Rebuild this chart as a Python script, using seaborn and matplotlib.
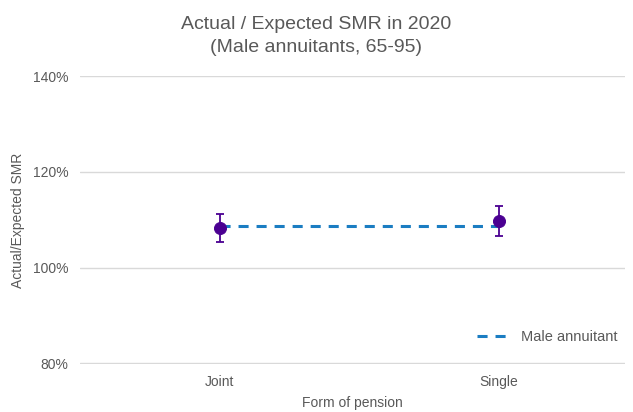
import pandas as pd
import seaborn as sns
import matplotlib.pyplot as plt
from matplotlib.ticker import FuncFormatter

# data
forms = ["Joint", "Single"]
ae_smr = [108.2, 109.7]
ci_low = [105.3, 106.6]
ci_high = [111.2, 112.8]
male_annuitant = [108.7, 108.7]

df = pd.DataFrame({"form": forms, "smr": ae_smr, "lo": ci_low, "hi": ci_high,
                   "male": male_annuitant})

sns.set_style("white")
plt.rcParams["font.family"] = ["Liberation Sans", "DejaVu Sans"]

fig = plt.figure(figsize=(6.33, 4.12), dpi=100)
ax = fig.add_axes([0.126, 0.1165, 0.861, 0.699])

grey = "#595959"

# benchmark dashed line
sns.lineplot(x=[0, 1], y=df["male"], ax=ax, color="#1B7DC2", linewidth=2.2,
             linestyle=(0, (3.3, 2.6)), label="Male annuitant", zorder=2)

# error bars + points
ax.errorbar([0, 1], df["smr"], yerr=[df["smr"] - df["lo"], df["hi"] - df["smr"]],
            fmt="none", ecolor="#4B0092", elinewidth=1.3, capsize=2.7, capthick=1.3, zorder=3)
sns.scatterplot(x=[0, 1], y=df["smr"], ax=ax, color="#4B0092", s=75,
                edgecolor="#4B0092", zorder=4, legend=False)

ax.set_xlim(-0.5, 1.45)
ax.set_ylim(79.85, 140)
ax.set_yticks([80, 100, 120, 140])
ax.yaxis.set_major_formatter(FuncFormatter(lambda v, p: f"{v:.0f}%"))
ax.set_xticks([0, 1])
ax.set_xticklabels(forms)
ax.grid(axis="y", color="#D9D9D9", linewidth=1)
ax.set_axisbelow(True)
for s in ax.spines.values():
    s.set_visible(False)
ax.tick_params(axis="both", colors=grey, labelsize=10, length=0, pad=8)

ax.set_xlabel("Form of pension", color=grey, fontsize=10, labelpad=5)
ax.set_ylabel("Actual/Expected SMR", color=grey, fontsize=10, labelpad=6)

fig.suptitle("Actual / Expected SMR in 2020\n(Male annuitants, 65-95)",
             color=grey, fontsize=14, y=0.96, linespacing=1.45)

leg = ax.legend(loc="lower right", frameon=False, fontsize=10.5, handlelength=2.2,
                bbox_to_anchor=(1.01, 0.025))
for t in leg.get_texts():
    t.set_color(grey)

fig.savefig("out.png", dpi=100)
